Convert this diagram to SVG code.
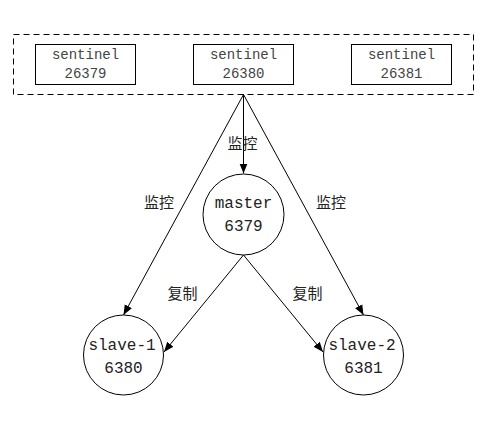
<svg xmlns="http://www.w3.org/2000/svg" width="491" height="445" viewBox="0 0 491 445">
<style>
.box{fill:#fff;stroke:#000;stroke-width:1}
.node{fill:#fff;stroke:#000;stroke-width:1}
.t{font-family:"Liberation Mono","Noto Sans CJK SC",monospace;fill:#444;text-anchor:middle}
.s{font-size:14px}
.n{font-size:16px;fill:#222}
.lbl{font-family:"Noto Sans CJK SC",sans-serif;font-size:15px;fill:#222;text-anchor:middle}
.edge{stroke:#000;stroke-width:1;fill:none;marker-end:url(#arr)}
</style>
<defs>
<marker id="arr" viewBox="0 0 10 10" refX="10" refY="5" markerWidth="10" markerHeight="10" markerUnits="userSpaceOnUse" orient="auto">
<path d="M0,1 L10,5 L0,9 Z" fill="#000"/>
</marker>
</defs>
<rect width="491" height="445" fill="#fff"/>
<g id="sentinels">
<rect x="13.5" y="34.5" width="460" height="60" fill="none" stroke="#000" stroke-dasharray="6,4"/>
</g>
<g id="sentinel-26379">
<rect class="box" x="35.5" y="44.5" width="100" height="40"/>
<text class="t s" x="85.5" y="59">sentinel</text>
<text class="t s" x="85.5" y="78">26379</text>
</g>
<g id="sentinel-26380">
<rect class="box" x="193.5" y="44.5" width="100" height="40"/>
<text class="t s" x="243.5" y="59">sentinel</text>
<text class="t s" x="243.5" y="78">26380</text>
</g>
<g id="sentinel-26381">
<rect class="box" x="351.5" y="44.5" width="100" height="40"/>
<text class="t s" x="401.5" y="59">sentinel</text>
<text class="t s" x="401.5" y="78">26381</text>
</g>
<g id="connectors">
<line class="edge" x1="243.5" y1="94.5" x2="243.5" y2="173.5"/>
<line class="edge" x1="243.5" y1="94.5" x2="123.5" y2="315"/>
<line class="edge" x1="243.5" y1="94.5" x2="363.5" y2="315"/>
<line class="edge" x1="243.5" y1="255" x2="164" y2="352"/>
<line class="edge" x1="243.5" y1="255" x2="323" y2="352"/>
<text class="lbl" x="242.5" y="149">监控</text>
<text class="lbl" x="159" y="208">监控</text>
<text class="lbl" x="331" y="208">监控</text>
<text class="lbl" x="182.5" y="299">复制</text>
<text class="lbl" x="307.5" y="299">复制</text>
</g>
<g id="master">
<circle class="node" cx="243.5" cy="214.5" r="40.5"/>
<text class="t n" x="243.5" y="208">master</text>
<text class="t n" x="243.5" y="231">6379</text>
</g>
<g id="slave-1">
<circle class="node" cx="123.5" cy="355" r="40"/>
<text class="t n" x="122" y="350">slave-1</text>
<text class="t n" x="123.5" y="373">6380</text>
</g>
<g id="slave-2">
<circle class="node" cx="363.5" cy="355" r="40"/>
<text class="t n" x="362" y="350">slave-2</text>
<text class="t n" x="363.5" y="373">6381</text>
</g>
</svg>
